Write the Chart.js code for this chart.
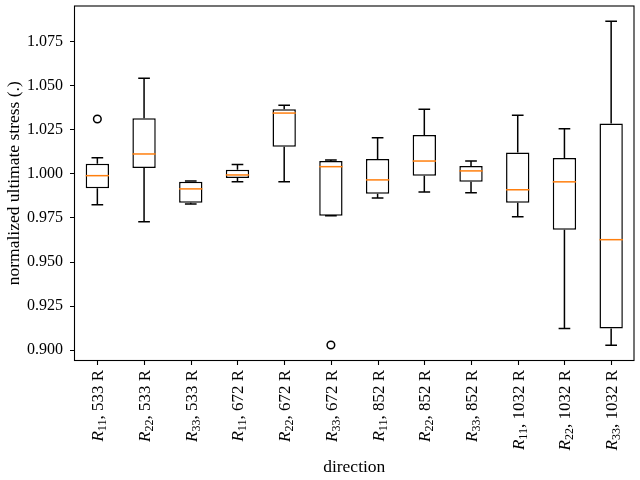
<!DOCTYPE html>
<html>
<head>
<meta charset="utf-8">
<script src="https://cdn.jsdelivr.net/npm/chart.js@4.4.0/dist/chart.umd.min.js"></script>
<style>
  html, body { margin: 0; padding: 0; background: #fff; }
  #wrap { width: 640px; height: 480px; }
</style>
</head>
<body>
<div id="wrap"><canvas id="myChart" width="640" height="480"></canvas></div>
<script>
// categories: subscript of R and temperature
const dirs = ['11', '22', '33', '11', '22', '33', '11', '22', '33', '11', '22', '33'];
const temps = ['533', '533', '533', '672', '672', '672', '852', '852', '852', '1032', '1032', '1032'];

// box statistics
const whiskerHigh = [1.0092, 1.0542, 0.9960, 1.0053, 1.0390, 1.0079, 1.0205, 1.0367, 1.0073, 1.0333, 1.0256, 1.0865];
const q3 = [1.0057, 1.0316, 0.9955, 1.0023, 1.0367, 1.0073, 1.0085, 1.0220, 1.0045, 1.0122, 1.0090, 1.0286];
const median = [0.9990, 1.0113, 0.9915, 0.9994, 1.0345, 1.0041, 0.9966, 1.0073, 1.0017, 0.9910, 0.9955, 0.9627];
const q1 = [0.9919, 1.0034, 0.9836, 0.9977, 1.0154, 0.9763, 0.9887, 0.9989, 0.9955, 0.9836, 0.9684, 0.9124];
const whiskerLow = [0.9825, 0.9729, 0.9830, 0.9955, 0.9955, 0.9763, 0.9864, 0.9898, 0.9893, 0.9757, 0.9124, 0.9028];
const outliers = [1.0311, null, null, null, null, 0.9030, null, null, null, null, null, null];

const yTicks = [0.900, 0.925, 0.950, 0.975, 1.000, 1.025, 1.050, 1.075];

const serif = '"Liberation Serif", "DejaVu Serif", serif';

const boxPlugin = {
  id: 'boxParts',
  afterDatasetsDraw(chart) {
    const ctx = chart.ctx;
    const y = chart.scales.y;
    const meta = chart.getDatasetMeta(0);
    ctx.save();
    ctx.lineWidth = 1.5;
    meta.data.forEach((bar, i) => {
      const x = bar.x;
      const half = bar.width / 2;
      const cap = bar.width / 4;
      ctx.strokeStyle = '#000';
      ctx.beginPath();
      ctx.moveTo(x, y.getPixelForValue(q3[i]));
      ctx.lineTo(x, y.getPixelForValue(whiskerHigh[i]));
      ctx.moveTo(x - cap, y.getPixelForValue(whiskerHigh[i]));
      ctx.lineTo(x + cap, y.getPixelForValue(whiskerHigh[i]));
      ctx.moveTo(x, y.getPixelForValue(q1[i]));
      ctx.lineTo(x, y.getPixelForValue(whiskerLow[i]));
      ctx.moveTo(x - cap, y.getPixelForValue(whiskerLow[i]));
      ctx.lineTo(x + cap, y.getPixelForValue(whiskerLow[i]));
      ctx.stroke();
      ctx.strokeStyle = '#ff7f0e';
      ctx.beginPath();
      ctx.moveTo(x - half, y.getPixelForValue(median[i]));
      ctx.lineTo(x + half, y.getPixelForValue(median[i]));
      ctx.stroke();
    });
    ctx.restore();
  },
  afterDraw(chart) {
    const ctx = chart.ctx;
    const a = chart.chartArea;
    const x = chart.scales.x;
    ctx.save();
    // frame
    ctx.strokeStyle = '#000';
    ctx.lineWidth = 1.1;
    ctx.strokeRect(a.left + 0.5, a.top + 0.5, a.right - a.left - 1, a.bottom - a.top - 1);
    // x tick marks + labels
    ctx.fillStyle = '#000';
    dirs.forEach((d, i) => {
      const px = Math.round(x.getPixelForValue(i)) + 0.5;
      ctx.beginPath();
      ctx.moveTo(px, a.bottom);
      ctx.lineTo(px, a.bottom + 4);
      ctx.stroke();

      const pieces = [
        { t: 'R', f: 'italic 17px ' + serif, dy: 0 },
        { t: d, f: '12px ' + serif, dy: 3 },
        { t: ', ' + temps[i] + ' R', f: '17px ' + serif, dy: 0 }
      ];
      let total = 0;
      pieces.forEach(p => { ctx.font = p.f; p.w = ctx.measureText(p.t).width; total += p.w; });
      ctx.save();
      ctx.translate(px, a.bottom + 9);
      ctx.rotate(-Math.PI / 2);
      ctx.textAlign = 'left';
      ctx.textBaseline = 'alphabetic';
      let cx = -total;
      pieces.forEach(p => {
        ctx.font = p.f;
        ctx.fillText(p.t, cx, 5.5 + p.dy);
        cx += p.w;
      });
      ctx.restore();
    });
    // x title
    ctx.font = '17.5px ' + serif;
    ctx.textAlign = 'center';
    ctx.textBaseline = 'middle';
    ctx.fillText('direction', (a.left + a.right) / 2, 467);
    ctx.restore();
  }
};

const ctx = document.getElementById('myChart').getContext('2d');
const myChart = new Chart(ctx, {
  type: 'bar',
  data: {
    labels: dirs.map((d, i) => 'R' + d + ', ' + temps[i] + ' R'),
    datasets: [{
      data: q1.map((v, i) => [v, q3[i]]),
      backgroundColor: '#fff',
      borderColor: '#000',
      borderWidth: 1.5,
      borderSkipped: false,
      categoryPercentage: 1.0,
      barPercentage: 0.5
    }, {
      type: 'line',
      data: outliers,
      showLine: false,
      pointRadius: 3.8,
      pointBorderWidth: 1.5,
      pointBorderColor: '#000',
      pointBackgroundColor: 'rgba(0,0,0,0)'
    }]
  },
  options: {
    responsive: false,
    animation: false,
    layout: { padding: { top: 2, right: 4, left: 0, bottom: 0 } },
    scales: {
      x: {
        offset: true,
        grid: { display: false },
        border: { display: false },
        ticks: { display: false },
        afterFit: function(scale) {
          scale.height = 119;
          scale.paddingLeft = 0; scale.paddingRight = 0;
        }
      },
      y: {
        min: 0.8939,
        max: 1.0955,
        afterBuildTicks: function(scale) { scale.ticks = yTicks.map(v => ({ value: v })); },
        afterFit: function(scale) {
          scale.width = 74;
          scale.paddingTop = 0; scale.paddingBottom = 0;
        },
        grid: { drawOnChartArea: false, drawTicks: true, tickLength: 4, color: '#000' },
        border: { display: false },
        ticks: {
          color: '#000',
          padding: 7,
          font: { family: serif, size: 16 },
          callback: function(value) { return value.toFixed(3); }
        },
        title: {
          display: true,
          text: 'normalized ultimate stress (.)',
          color: '#000',
          font: { family: serif, size: 17.5 },
          padding: { top: 4, bottom: 4 }
        }
      }
    },
    plugins: {
      legend: { display: false },
      tooltip: { enabled: false }
    }
  },
  plugins: [boxPlugin]
});
</script>
</body>
</html>
